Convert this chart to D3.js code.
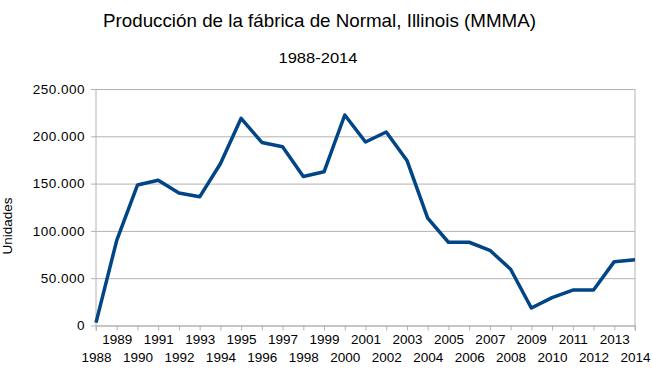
<!DOCTYPE html>
<html>
<head>
<meta charset="utf-8">
<script src="https://cdn.jsdelivr.net/npm/d3@7"></script>
<style>
  body { margin: 0; background: #fff; }
  text { font-family: "Liberation Sans", Arial, sans-serif; fill: #000; }
</style>
</head>
<body>
<script>
// Producción anual, Normal (Illinois)

let years = [1988, 1989, 1990, 1991, 1992, 1993, 1994, 1995, 1996, 1997, 1998, 1999, 2000,
  2001, 2002, 2003, 2004, 2005, 2006, 2007, 2008, 2009, 2010, 2011, 2012, 2013, 2014]
let units = [3000, 90000, 148500, 153500, 140000, 136000, 171000, 219000, 193500, 189000, 157500, 162500, 222500,
  194000, 204500, 174500, 113500, 88000, 88000, 79500, 59500, 18500, 29500, 37500, 37500, 67500, 69500]
let yTicks = [0, 50000, 100000, 150000, 200000, 250000]

let W = 652
let H = 375
let mLeft = 96, mRight = 635, mTop = 89, mBottom = 325.5

let svg = d3.select('body').append('svg')
  .attr('width', W)
  .attr('height', H)

let x = d3.scaleLinear().domain([1988, 2014]).range([mLeft, mRight])
let y = d3.scaleLinear().domain([0, 250000]).range([mBottom, mTop])

let fmt = function (v) { return d3.format(',')(v).replace(/,/g, '.') }

// rejilla y eje Y
let yAxis = d3.axisLeft(y).tickValues(yTicks).tickSize(0).tickPadding(11).tickFormat(fmt)
let gy = svg.append('g').attr('transform', 'translate(' + mLeft + ',0)').call(yAxis)
gy.select('.domain').remove()
gy.selectAll('.tick line')
  .attr('x1', -5)
  .attr('x2', mRight - mLeft)
  .attr('stroke', '#b3b3b3')
gy.selectAll('text').attr('font-size', '13.5px').attr('letter-spacing', '0.5px')

// bordes
svg.append('line').attr('x1', mLeft).attr('x2', mLeft).attr('y1', mTop).attr('y2', mBottom + 5).attr('stroke', '#b3b3b3')
svg.append('line').attr('x1', mRight).attr('x2', mRight).attr('y1', mTop).attr('y2', mBottom + 5).attr('stroke', '#b3b3b3')

// eje X
let xAxis = d3.axisBottom(x).tickValues(years).tickSize(5).tickFormat(d3.format('d'))
let gx = svg.append('g').attr('transform', 'translate(0,' + mBottom + ')').call(xAxis)
gx.select('.domain').attr('stroke', '#b3b3b3')
gx.selectAll('line').attr('stroke', '#b3b3b3')
gx.selectAll('text')
  .attr('font-size', '13.5px')
  .attr('y', function (d) { return d % 2 === 1 ? 14 : 32 })
  .attr('dy', '0.36em')

// línea de datos
let line = d3.line()
  .x(function (d, i) { return x(years[i]) })
  .y(function (d) { return y(d) })
svg.append('path')
  .datum(units)
  .attr('d', line)
  .attr('fill', 'none')
  .attr('stroke', '#004586')
  .attr('stroke-width', 3.5)
  .attr('stroke-linejoin', 'round')

// títulos
svg.append('text').attr('x', 319.5).attr('y', 27).attr('text-anchor', 'middle')
  .attr('font-size', '19px').attr('textLength', 433).attr('lengthAdjust', 'spacingAndGlyphs')
  .text('Producción de la fábrica de Normal, Illinois (MMMA)')
svg.append('text').attr('x', 318).attr('y', 63).attr('text-anchor', 'middle')
  .attr('font-size', '15px').attr('textLength', 79).attr('lengthAdjust', 'spacingAndGlyphs')
  .text('1988-2014')
svg.append('text').attr('transform', 'translate(11.5,226) rotate(-90)').attr('text-anchor', 'middle')
  .attr('font-size', '13.5px').text('Unidades')
</script>
</body>
</html>
